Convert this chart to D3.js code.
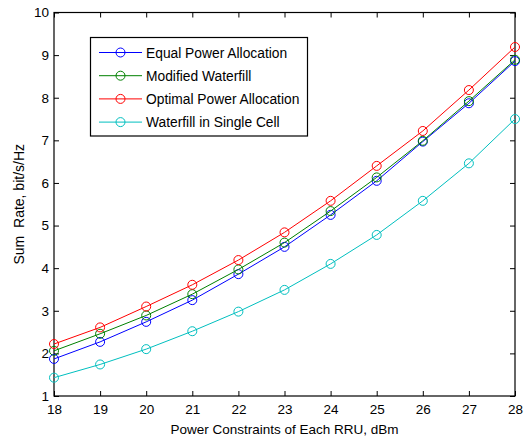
<!DOCTYPE html>
<html>
<head>
<meta charset="utf-8">
<script src="https://cdn.jsdelivr.net/npm/d3@7"></script>
<style>
  html, body { margin: 0; padding: 0; background: #fff; }
  svg { display: block; font-family: "Liberation Sans", Arial, sans-serif; }
</style>
</head>
<body>
<svg id="chart" width="524" height="441"></svg>
<script>
// Power constraint of each RRU (dBm)
const power = [18, 19, 20, 21, 22, 23, 24, 25, 26, 27, 28];

// Sum rate (bit/s/Hz) for each allocation scheme
const equalPower   = [1.87, 2.27, 2.74, 3.25, 3.86, 4.50, 5.25, 6.05, 6.97, 7.87, 8.86];
const modWaterfill = [2.06, 2.46, 2.89, 3.39, 3.97, 4.60, 5.34, 6.13, 6.99, 7.92, 8.89];
const optimalPower = [2.22, 2.61, 3.10, 3.61, 4.19, 4.84, 5.58, 6.40, 7.22, 8.18, 9.19];
const singleCell   = [1.43, 1.74, 2.10, 2.52, 2.98, 3.49, 4.10, 4.78, 5.58, 6.46, 7.50];

const seriesNames = ["Equal Power Allocation", "Modified Waterfill", "Optimal Power Allocation", "Waterfill in Single Cell"];
const seriesColors = ["#0000ff", "#008000", "#ff0000", "#00bfbf"];
const seriesValues = [equalPower, modWaterfill, optimalPower, singleCell];

const xTicks = [18, 19, 20, 21, 22, 23, 24, 25, 26, 27, 28];
const yTicks = [1, 2, 3, 4, 5, 6, 7, 8, 9, 10];

const svg = d3.select("#chart");
const plotLeft = 54, plotRight = 515, plotTop = 12.5, plotBottom = 396;

const x = d3.scaleLinear().domain([18, 28]).range([plotLeft, plotRight]);
const y = d3.scaleLinear().domain([1, 10]).range([plotBottom, plotTop]);

const tickLen = 5;
const fontSize = 13.5;

// Axes with inward ticks on all four sides
const axB = d3.axisBottom(x).tickValues(xTicks).tickSize(-tickLen).tickPadding(8).tickFormat(d3.format("d"));
const axT = d3.axisTop(x).tickValues(xTicks).tickSize(-tickLen).tickFormat("");
const axL = d3.axisLeft(y).tickValues(yTicks).tickSize(-tickLen).tickPadding(5).tickFormat(d3.format("d"));
const axR = d3.axisRight(y).tickValues(yTicks).tickSize(-tickLen).tickFormat("");

function styleAxis(g) {
  g.select(".domain").remove();
  g.selectAll(".tick line").attr("stroke", "#000").attr("stroke-width", 1);
  g.selectAll(".tick text").attr("fill", "#000").style("font-size", fontSize + "px")
    .style("font-family", "'Liberation Sans', Arial, sans-serif");
}

svg.append("g").attr("transform", `translate(0,${plotBottom})`).call(axB).call(styleAxis);
svg.append("g").attr("transform", `translate(0,${plotTop})`).call(axT).call(styleAxis);
svg.append("g").attr("transform", `translate(${plotLeft},0)`).call(axL).call(styleAxis);
svg.append("g").attr("transform", `translate(${plotRight},0)`).call(axR).call(styleAxis);

// Plot box
svg.append("rect")
  .attr("x", plotLeft).attr("y", plotTop)
  .attr("width", plotRight - plotLeft).attr("height", plotBottom - plotTop)
  .attr("fill", "none").attr("stroke", "#000").attr("stroke-width", 1.2);

// Series lines and circle markers
const line = d3.line().x((d, i) => x(power[i])).y(d => y(d));
seriesValues.forEach((vals, s) => {
  const g = svg.append("g");
  g.append("path").datum(vals)
    .attr("d", line)
    .attr("fill", "none").attr("stroke", seriesColors[s]).attr("stroke-width", 1);
  g.selectAll("circle").data(vals).join("circle")
    .attr("cx", (d, i) => x(power[i])).attr("cy", d => y(d)).attr("r", 4.5)
    .attr("fill", "none").attr("stroke", seriesColors[s]).attr("stroke-width", 1);
});

// Axis labels
svg.append("text")
  .attr("x", (plotLeft + plotRight) / 2).attr("y", 434)
  .attr("text-anchor", "middle").style("font-size", "13.5px").attr("fill", "#000")
  .text("Power Constraints of Each RRU, dBm");

svg.append("text")
  .attr("transform", `translate(24,${(plotTop + plotBottom) / 2}) rotate(-90)`)
  .attr("text-anchor", "middle").style("font-size", "14px").attr("fill", "#000")
  .style("white-space", "pre")
  .text("Sum  Rate, bit/s/Hz");

// Legend
const lg = svg.append("g");
lg.append("rect")
  .attr("x", 90.5).attr("y", 37.5).attr("width", 217).attr("height", 98.5)
  .attr("fill", "#fff").attr("stroke", "#000").attr("stroke-width", 1.2);
seriesNames.forEach((name, s) => {
  const ly = 52.5 + s * 23.2;
  lg.append("line").attr("x1", 99).attr("x2", 142).attr("y1", ly).attr("y2", ly)
    .attr("stroke", seriesColors[s]).attr("stroke-width", 1);
  lg.append("circle").attr("cx", 120.5).attr("cy", ly).attr("r", 4.5)
    .attr("fill", "none").attr("stroke", seriesColors[s]).attr("stroke-width", 1);
  lg.append("text").attr("x", 146).attr("y", ly + 5)
    .style("font-size", "13.8px").attr("fill", "#000").text(name);
});
</script>
</body>
</html>
